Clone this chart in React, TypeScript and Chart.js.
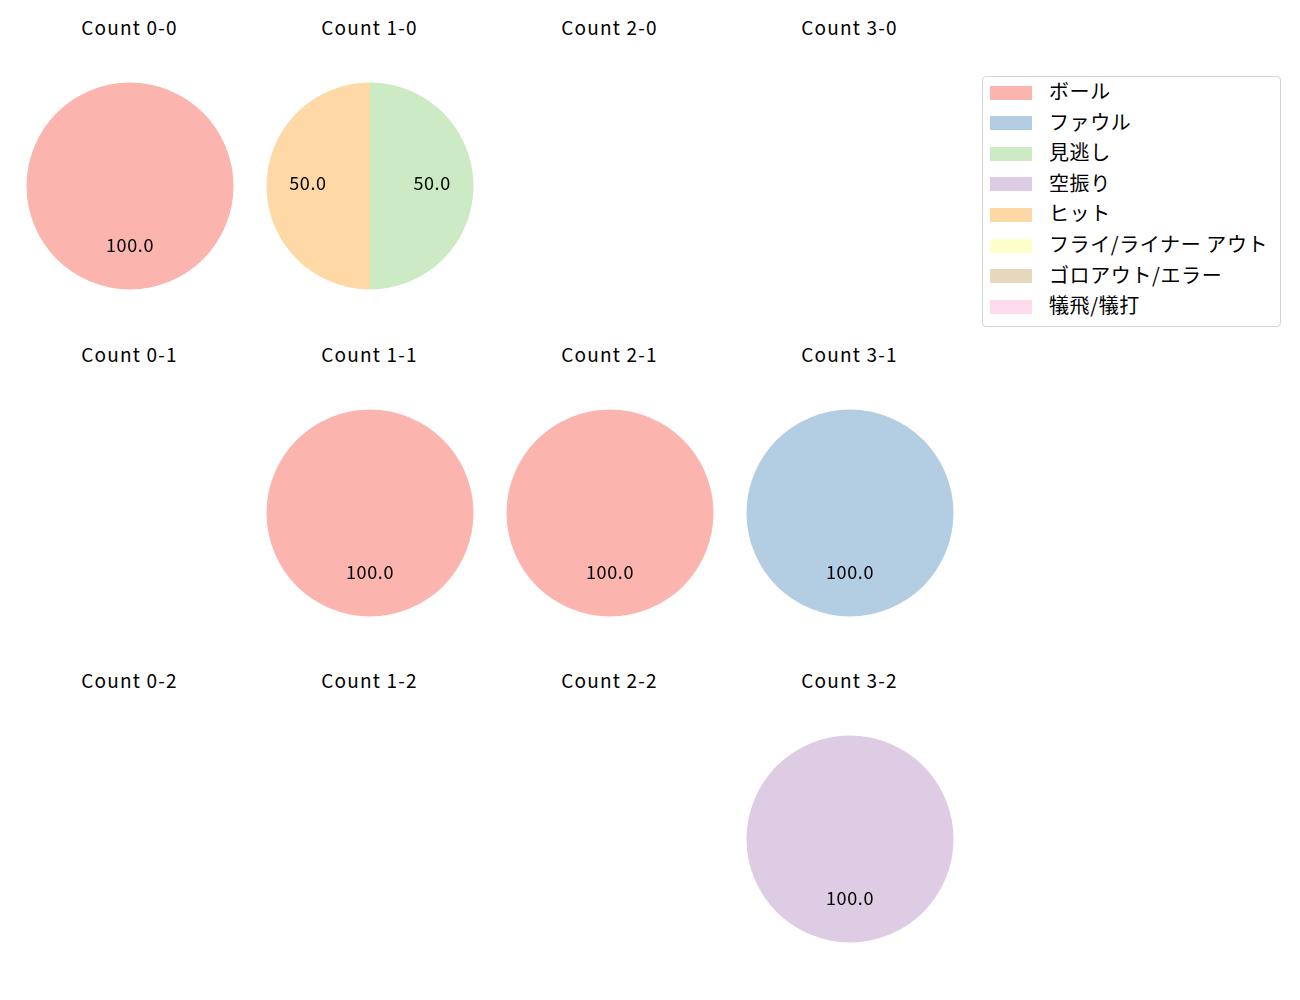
import React, { useRef, useEffect } from 'react';
import Chart from 'chart.js/auto';

const categories = ['ボール', 'ファウル', '見逃し', '空振り', 'ヒット', 'フライ/ライナー アウト', 'ゴロアウト/エラー', '犠飛/犠打'];
const colors = ['#fbb4ae', '#b3cde3', '#ccebc5', '#decbe4', '#fed9a6', '#ffffcc', '#e5d8bd', '#fddaec'];

// counts, row by row (strikes 0..2), balls 0..3
const counts = ['0-0', '1-0', '2-0', '3-0', '0-1', '1-1', '2-1', '3-1', '0-2', '1-2', '2-2', '3-2'];

// values per count, in category order
const count00 = [1, 0, 0, 0, 0, 0, 0, 0];
const count10 = [0, 0, 1, 0, 1, 0, 0, 0];
const count20 = [0, 0, 0, 0, 0, 0, 0, 0];
const count30 = [0, 0, 0, 0, 0, 0, 0, 0];
const count01 = [0, 0, 0, 0, 0, 0, 0, 0];
const count11 = [1, 0, 0, 0, 0, 0, 0, 0];
const count21 = [1, 0, 0, 0, 0, 0, 0, 0];
const count31 = [0, 1, 0, 0, 0, 0, 0, 0];
const count02 = [0, 0, 0, 0, 0, 0, 0, 0];
const count12 = [0, 0, 0, 0, 0, 0, 0, 0];
const count22 = [0, 0, 0, 0, 0, 0, 0, 0];
const count32 = [0, 0, 0, 1, 0, 0, 0, 0];
const countValues = [count00, count10, count20, count30, count01, count11, count21, count31, count02, count12, count22, count32];

const FONT = '"Noto Sans CJK JP", "Noto Sans", sans-serif';
const colX = [129.5, 369.5, 609.5, 849.5];
const rowY = [186, 512.5, 839];

const pctLabels = {
    id: 'pctLabels',
    afterDatasetsDraw(chart: any) {
        const ctx = chart.ctx;
        const meta = chart.getDatasetMeta(0);
        const data: number[] = chart.data.datasets[0].data;
        const total = data.reduce((a, b) => a + b, 0);
        if (!total) return;
        ctx.save();
        ctx.font = '18px ' + FONT;
        (ctx as any).letterSpacing = '0.6px';
        ctx.fillStyle = '#000';
        ctx.textAlign = 'center';
        ctx.textBaseline = 'middle';
        meta.data.forEach((arc: any, i: number) => {
            if (!data[i]) return;
            const p = arc.getProps(['x', 'y', 'startAngle', 'endAngle', 'outerRadius'], true);
            const mid = (p.startAngle + p.endAngle) / 2;
            const r = p.outerRadius * 0.6;
            ctx.fillText(((data[i] / total) * 100).toFixed(1), p.x + Math.cos(mid) * r, p.y + Math.sin(mid) * r - 2.5);
        });
        ctx.restore();
    },
};

const PieCell = ({ values, cx, cy }: { values: number[]; cx: number; cy: number }) => {
    const chartRef = useRef<HTMLCanvasElement>(null);

    useEffect(() => {
        if (!chartRef.current) return;
        const myChart = new Chart(chartRef.current, {
            type: 'pie',
            data: {
                labels: categories,
                datasets: [{ data: values, backgroundColor: colors, borderWidth: 0 }],
            },
            options: {
                animation: false,
                responsive: false,
                devicePixelRatio: 1,
                layout: { padding: 16.5 },
                plugins: { legend: { display: false }, tooltip: { enabled: false } },
            },
            plugins: [pctLabels],
        });
        return () => myChart.destroy();
    }, [values]);

    return (
        <canvas
            ref={chartRef}
            width={240}
            height={240}
            style={{ position: 'absolute', left: cx - 120, top: cy - 120, width: 240, height: 240 }}
        />
    );
};

const App = () => {
    return (
        <div style={{ position: 'absolute', left: 0, top: 0, width: 1300, height: 1000, background: '#fff', fontFamily: FONT }}>
            {counts.map((c, i) => {
                const cx = colX[i % 4];
                const cy = rowY[Math.floor(i / 4)];
                return (
                    <React.Fragment key={c}>
                        <div
                            style={{
                                position: 'absolute',
                                left: cx - 100,
                                width: 200,
                                top: cy - 172,
                                lineHeight: '26px',
                                textAlign: 'center',
                                fontSize: 19,
                                letterSpacing: '1.2px',
                                color: '#000',
                            }}
                        >
                            {'Count ' + c}
                        </div>
                        <PieCell values={countValues[i]} cx={cx} cy={cy} />
                    </React.Fragment>
                );
            })}
            <div
                style={{
                    position: 'absolute',
                    left: 982,
                    top: 76,
                    width: 297,
                    height: 249,
                    border: '1px solid #d5d5d5',
                    borderRadius: 4,
                    boxSizing: 'content-box',
                }}
            >
                {categories.map((name, i) => (
                    <div key={name} style={{ position: 'absolute', left: 0, top: 1 + i * 30.6, height: 30, width: 297 }}>
                        <div style={{ position: 'absolute', left: 7, top: 7.5, width: 42, height: 14, background: colors[i] }} />
                        <div
                            style={{
                                position: 'absolute',
                                left: 66,
                                top: -2,
                                lineHeight: '30px',
                                fontSize: 20,
                                letterSpacing: '0.6px',
                                color: '#000',
                                whiteSpace: 'nowrap',
                            }}
                        >
                            {name}
                        </div>
                    </div>
                ))}
            </div>
        </div>
    );
};

export default App;
